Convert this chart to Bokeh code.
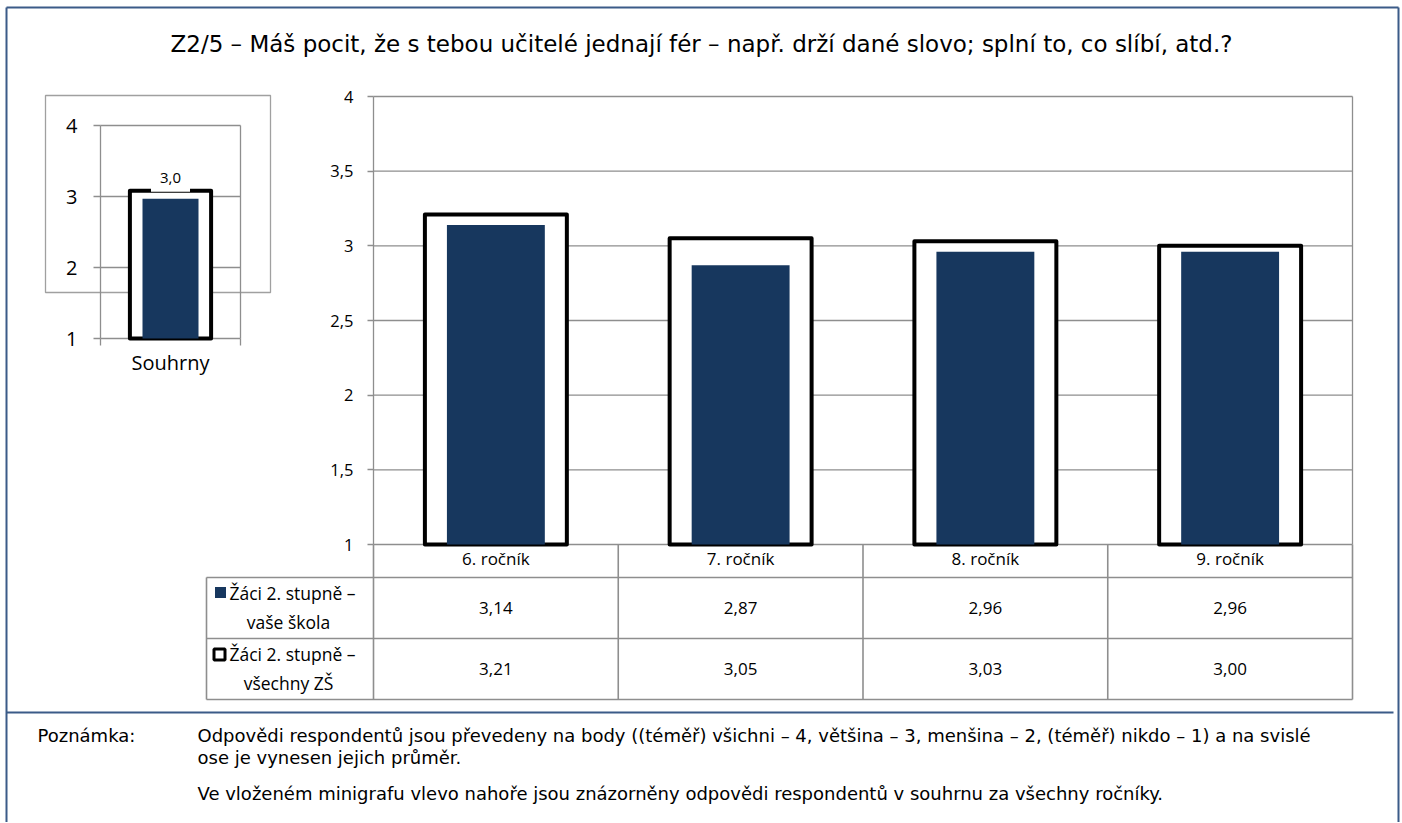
from bokeh.plotting import figure
from bokeh.models import Range1d, LinearAxis, FixedTicker, Label
from bokeh.embed import file_html
from bokeh.resources import INLINE
from bokeh.core.properties import value

# ---------------- data ----------------
categories = ["6. ročník", "7. ročník", "8. ročník", "9. ročník"]
school = [3.14, 2.87, 2.96, 2.96]
all_schools = [3.21, 3.05, 3.03, 3.00]
series_names = ["Žáci 2. stupně – vaše škola", "Žáci 2. stupně – všechny ZŠ"]

summary_category = ["Souhrny"]
summary_school = [2.97]
summary_all = [3.08]

main_ticks = [1, 1.5, 2, 2.5, 3, 3.5, 4]
mini_ticks = [1, 2, 3, 4]

title_text = "Z2/5 – Máš pocit, že s tebou učitelé jednají fér – např. drží dané slovo; splní to, co slíbí, atd.?"
note_head = "Poznámka:"
note_lines = [
    "Odpovědi respondentů jsou převedeny na body ((téměř) všichni – 4, většina – 3, menšina – 2, (téměř) nikdo – 1) a na svislé",
    "ose je vynesen jejich průměr.",
    "Ve vloženém minigrafu vlevo nahoře jsou znázorněny odpovědi respondentů v souhrnu za všechny ročníky.",
]

# ---------------- styling ----------------
NAVY = "#17375E"
GRID = "#8e8e8e"
FRAME = "#3b5b88"
CAL = value("Open Sans")
ARIAL = value("DejaVu Sans")


def cz(v, d):
    return f"{v:.{d}f}".replace(".", ",")


W, H = 1400, 822
OX, OY = 0, 0


def fit(va, pa, vb, pb, c0, c1):
    k = (vb - va) / (pb - pa)
    return Range1d(start=va + (c0 - pa) * k, end=va + (c1 - pa) * k)


p = figure(width=W, height=H, output_backend="svg", toolbar_location=None,
           min_border=0, x_axis_type=None, y_axis_type=None,
           outline_line_color=None,
           x_range=fit(0, 373, len(categories), 1352, OX, OX + W),
           y_range=fit(1, 544, 4, 96, OY + H, OY))
p.extra_x_ranges = {"px": Range1d(OX, OX + W),
                    "minix": fit(0, 100, len(summary_category), 240, OX, OX + W)}
p.extra_y_ranges = {"px": Range1d(OY + H, OY),
                    "mini": fit(1, 338, 4, 125, OY + H, OY)}
p.background_fill_color = "white"
p.border_fill_color = "white"

PX = dict(x_range_name="px", y_range_name="px")
MINI = dict(x_range_name="minix", y_range_name="mini")

# outer frame and separator
p.segment(x0=[6, 1398, 6], y0=[7, 7, 7], x1=[6, 1398, 1398], y1=[822, 822, 7],
          line_color=FRAME, line_width=2, **PX)
p.segment(x0=[6], y0=[712], x1=[1393], y1=[712], line_color=FRAME, line_width=2, **PX)

# mini chart box
p.quad(left=[45], right=[270], top=[95], bottom=[292], fill_color=None,
       line_color="#a0a0a0", line_width=1.3, **PX)

# main gridlines + right edge
n = len(categories)
gy = [t for t in main_ticks if t > 1]
p.segment(x0=[0] * len(gy), x1=[n] * len(gy), y0=gy, y1=gy, line_color=GRID, line_width=1.3)
p.segment(x0=[n], x1=[n], y0=[1], y1=[4], line_color=GRID, line_width=1.3)

# mini gridlines + right edge + bottom line
m = len(summary_category)
my = [t for t in mini_ticks if t > 1]
p.segment(x0=[0] * len(my), x1=[m] * len(my), y0=my, y1=my, line_color=GRID, line_width=1.3, **MINI)
p.segment(x0=[m, 0], x1=[m, m], y0=[1, 1], y1=[4, 1], line_color=GRID, line_width=1.3, **MINI)

# table grid
p.segment(x0=[206, 206, 206, 373], x1=[1352, 1352, 1352, 1352],
          y0=[577, 638, 699, 544], y1=[577, 638, 699, 544],
          line_color=GRID, line_width=1.6, **PX)
p.segment(x0=[206], x1=[206], y0=[577], y1=[699], line_color=GRID, line_width=1.6, **PX)
bx = list(range(n + 1))
p.segment(x0=bx, x1=bx, y0=[544] * len(bx), y1=[699] * len(bx),
          line_color=GRID, line_width=1.6, y_range_name="px")

# main bars
xc = [i + 0.5 for i in range(n)]
p.vbar(x=xc, top=all_schools, bottom=1, width=0.58, fill_color="white",
       line_color="black", line_width=4, line_join="round")
p.vbar(x=xc, top=school, bottom=1, width=0.4, fill_color=NAVY, line_color=None)

# mini bars
mxc = [i + 0.5 for i in range(m)]
p.vbar(x=mxc, top=summary_all, bottom=1, width=0.58, fill_color="white",
       line_color="black", line_width=4, line_join="round", **MINI)
p.vbar(x=mxc, top=summary_school, bottom=1, width=0.4, fill_color=NAVY,
       line_color=None, **MINI)
p.add_layout(Label(x=mxc[0], y=summary_all[0], text=cz(summary_school[0], 1),
                   x_range_name="minix", y_range_name="mini", y_offset=13,
                   text_align="center", text_baseline="middle",
                   text_font="Open Sans", text_font_size="15px", text_color="black",
                   background_fill_color="white", padding=9))

# main y axis
yax = LinearAxis(fixed_location=0, bounds=(1, 4), ticker=FixedTicker(ticks=main_ticks, minor_ticks=[]))
yax.major_label_overrides = {t: cz(t, 1).replace(",0", "") for t in main_ticks}
yax.axis_line_color = GRID
yax.axis_line_width = 1.3
yax.major_tick_line_color = GRID
yax.major_tick_line_width = 1.3
yax.major_tick_in = 0
yax.major_tick_out = 6
yax.minor_tick_line_color = None
yax.major_label_standoff = 14
yax.major_label_text_font = "Open Sans"
yax.major_label_text_font_size = "16.5px"
yax.major_label_text_color = "black"
p.add_layout(yax, "left")

# category axis (table header)
xax = LinearAxis(fixed_location=1, bounds=(0, n), ticker=FixedTicker(ticks=xc, minor_ticks=[]))
xax.major_label_overrides = {x: c for x, c in zip(xc, categories)}
xax.axis_line_color = None
xax.major_tick_line_color = None
xax.major_tick_out = 0
xax.minor_tick_line_color = None
xax.major_label_standoff = 2
xax.major_label_text_font = "Open Sans"
xax.major_label_text_font_size = "17px"
xax.major_label_text_color = "black"
p.add_layout(xax, "below")

# mini y axis
myax = LinearAxis(fixed_location=0, bounds=(1, 4), ticker=FixedTicker(ticks=mini_ticks, minor_ticks=[]), **MINI)
myax.axis_line_color = GRID
myax.axis_line_width = 1.3
myax.major_tick_line_color = GRID
myax.major_tick_line_width = 1.3
myax.major_tick_in = 0
myax.major_tick_out = 7
myax.minor_tick_line_color = None
myax.major_label_standoff = 16
myax.major_label_text_font = "Open Sans"
myax.major_label_text_font_size = "20px"
myax.major_label_text_color = "black"
p.add_layout(myax, "left")

# mini category axis
mxax = LinearAxis(fixed_location=1, bounds=(0, m),
                  ticker=FixedTicker(ticks=mxc, minor_ticks=list(range(m + 1))), **MINI)
mxax.major_label_overrides = {x: c for x, c in zip(mxc, summary_category)}
mxax.axis_line_color = None
mxax.major_tick_line_color = None
mxax.major_tick_out = 0
mxax.minor_tick_line_color = GRID
mxax.minor_tick_line_width = 1.3
mxax.minor_tick_in = 0
mxax.minor_tick_out = 7
mxax.major_label_standoff = 3
mxax.major_label_text_font = "Open Sans"
mxax.major_label_text_font_size = "20px"
mxax.major_label_text_color = "black"
p.add_layout(mxax, "below")

# table: legend column
p.scatter(x=[220], y=[592], marker="square", size=11, fill_color=NAVY, line_color=None, **PX)
p.scatter(x=[219], y=[654], marker="square", size=11, fill_color="white",
          line_color="black", line_width=3, **PX)
first = [s.split(" – ")[0] + " –" for s in series_names]
second = [s.split(" – ")[1] for s in series_names]
p.text(x=[229, 229], y=[592, 653], text=first, text_font=CAL, text_font_size="17.5px",
       text_align="left", text_baseline="middle", text_color="black", **PX)
p.text(x=[288, 288], y=[621, 682], text=second, text_font=CAL, text_font_size="17.5px",
       text_align="center", text_baseline="middle", text_color="black", **PX)

# table: values
p.text(x=xc, y=[607.5] * n, text=[cz(v, 2) for v in school], text_font=CAL,
       text_font_size="17px", text_align="center", text_baseline="middle",
       text_color="black", y_range_name="px")
p.text(x=xc, y=[668.5] * n, text=[cz(v, 2) for v in all_schools], text_font=CAL,
       text_font_size="17px", text_align="center", text_baseline="middle",
       text_color="black", y_range_name="px")

# title
p.text(x=[701], y=[43], text=[title_text], text_font=ARIAL, text_font_size="23px",
       text_align="center", text_baseline="middle", text_color="black", **PX)

# notes
p.text(x=[37], y=[735], text=[note_head], text_font=ARIAL, text_font_size="18px",
       text_align="left", text_baseline="middle", text_color="black", **PX)
p.text(x=[197, 197, 197], y=[735, 757, 793], text=note_lines, text_font=ARIAL,
       text_font_size="18px", text_align="left", text_baseline="middle",
       text_color="black", **PX)

open("out.html", "w").write(file_html(p, INLINE))
